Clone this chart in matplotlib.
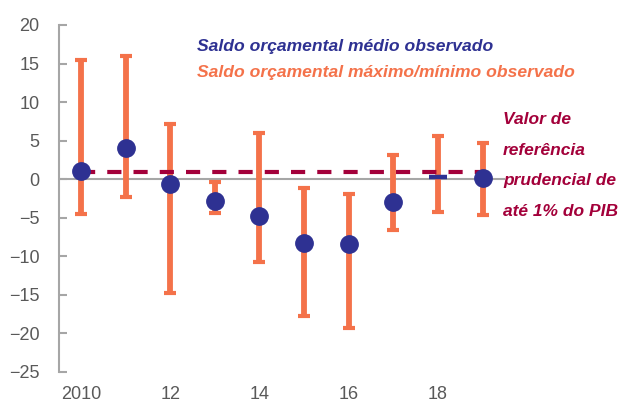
import matplotlib
matplotlib.use("Agg")
import matplotlib.pyplot as plt
import numpy as np

plt.rcParams['font.family'] = ['Liberation Sans', 'DejaVu Sans']

years = [2010, 2011, 2012, 2013, 2014, 2015, 2016, 2017, 2018, 2019]
mean_balance = [1.1, 4.0, -0.65, -2.8, -4.75, -8.3, -8.4, -3.0, 0.35, 0.15]
max_balance = [15.5, 16.0, 7.2, -0.3, 6.0, -1.15, -1.95, 3.2, 5.65, 4.65]
min_balance = [-4.5, -2.25, -14.8, -4.4, -10.7, -17.8, -19.3, -6.6, -4.3, -4.7]
reference_value = 1.0
xtick_years = [2010, 2012, 2014, 2016, 2018]
xtick_labels = ["2010", "12", "14", "16", "18"]
yticks = [-25, -20, -15, -10, -5, 0, 5, 10, 15, 20]
ref_lines = ['Valor de', 'referência', 'prudencial de', 'até 1% do PIB']

BLUE = '#2E3192'
ORANGE = '#F4724A'
DARKRED = '#A3003A'
GRAY = '#A6A6A6'
TXT = '#595959'

fig = plt.figure(figsize=(6.18, 4.05), dpi=100)
ax = fig.add_axes([0.095, 0.0815, 0.722, 0.8568])

m = np.array(mean_balance)
lo = m - np.array(min_balance)
hi = np.array(max_balance) - m

ax.axhline(0, color=GRAY, lw=1.5, zorder=1)
ax.errorbar(years, mean_balance, yerr=[lo, hi], fmt='none', ecolor=ORANGE,
            elinewidth=4.2, capsize=4.5, capthick=3, zorder=2)
ax.plot([years[0], years[-1]], [reference_value, reference_value], color=DARKRED,
        lw=3, dashes=(3.4, 2.9), solid_capstyle='butt', dash_capstyle='butt', zorder=3)

for yr, v in zip(years, mean_balance):
    if yr == 2018:
        ax.plot([yr], [v], marker='_', color=BLUE, markersize=12.5, mew=3.2, zorder=4)
    else:
        ax.plot([yr], [v], marker='o', color=BLUE, markersize=12.5, mec=BLUE, zorder=4)

ax.set_xlim(2009.5, 2019.5)
ax.set_ylim(-25, 20)
ax.set_yticks(yticks)
ax.set_yticklabels([f"{t}".replace('-', '\u2212') for t in yticks])
ax.set_xticks(xtick_years)
ax.set_xticklabels(xtick_labels)

for s in ['top', 'right', 'bottom']:
    ax.spines[s].set_visible(False)
ax.spines['left'].set_color(GRAY)
ax.spines['left'].set_linewidth(1.5)
ax.tick_params(axis='y', direction='in', length=6, width=1.5, color=GRAY,
               labelcolor=TXT, labelsize=13, pad=14)
ax.tick_params(axis='x', length=0, labelcolor=TXT, labelsize=13, pad=10)

fig.text(197/618, 1 - 46/405, 'Saldo orçamental médio observado', color=BLUE,
         fontsize=12.6, fontweight='bold', fontstyle='italic', va='center', ha='left')
fig.text(197/618, 1 - 72/405, 'Saldo orçamental máximo/mínimo observado', color=ORANGE,
         fontsize=12.6, fontweight='bold', fontstyle='italic', va='center', ha='left')
for i, line in enumerate(ref_lines):
    fig.text(503/618, 1 - (120 + 30.5 * i)/405, line,
             color=DARKRED, fontsize=12.5, fontweight='bold', fontstyle='italic',
             va='center', ha='left')

fig.savefig('out.png', dpi=100)
